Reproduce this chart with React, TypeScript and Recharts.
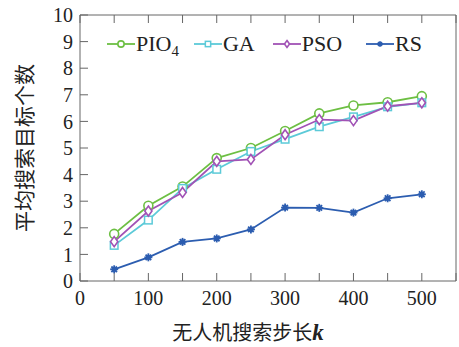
import React from "react";
import {
  LineChart,
  Line,
  XAxis,
  YAxis,
  Legend,
  Label,
} from "recharts";

// 无人机搜索步长 k
const steps = [50, 100, 150, 200, 250, 300, 350, 400, 450, 500];
// 平均搜索目标个数
const pio4 = [1.77, 2.83, 3.55, 4.62, 5.0, 5.64, 6.3, 6.6, 6.72, 6.95];
const ga = [1.34, 2.29, 3.48, 4.2, 4.87, 5.33, 5.8, 6.17, 6.55, 6.7];
const pso = [1.48, 2.63, 3.33, 4.5, 4.57, 5.5, 6.07, 6.03, 6.57, 6.7];
const rs = [0.44, 0.89, 1.47, 1.6, 1.94, 2.76, 2.75, 2.57, 3.11, 3.26];

const xTicks = [0, 50, 100, 150, 200, 250, 300, 350, 400, 450, 500, 550];
const yTicks = [0, 1, 2, 3, 4, 5, 6, 7, 8, 9, 10];

const data = steps.map((s, i) => ({
  step: s,
  pio4: pio4[i],
  ga: ga[i],
  pso: pso[i],
  rs: rs[i],
}));

const COLORS = {
  pio4: "#6dbf43",
  ga: "#5ccad8",
  pso: "#a152b5",
  rs: "#2c5db0",
};

const SERIF = "'Liberation Serif', 'DejaVu Serif', serif";
const CJK = "'Noto Sans CJK SC', sans-serif";
const AXIS = "#666";

type Shape = "circle" | "square" | "diamond" | "star";

function Marker({ cx, cy, shape, color, s = 1 }: { cx: number; cy: number; shape: Shape; color: string; s?: number }) {
  if (shape === "circle")
    return <circle cx={cx} cy={cy} r={4.5 * s} fill="#fff" stroke={color} strokeWidth={1.6} />;
  if (shape === "square")
    return <rect x={cx - 3.8 * s} y={cy - 3.8 * s} width={7.6 * s} height={7.6 * s} fill="#fff" stroke={color} strokeWidth={1.5} />;
  if (shape === "diamond")
    return (
      <path
        d={`M${cx},${cy - 5 * s}L${cx + 3.6 * s},${cy}L${cx},${cy + 5 * s}L${cx - 3.6 * s},${cy}Z`}
        fill="#fff"
        stroke={color}
        strokeWidth={1.6}
      />
    );
  // filled asterisk-like star
  const r = 4 * s;
  return (
    <g stroke={color} strokeWidth={1.8}>
      <circle cx={cx} cy={cy} r={2.6 * s} fill={color} stroke="none" />
      <line x1={cx - r} y1={cy} x2={cx + r} y2={cy} />
      <line x1={cx} y1={cy - r} x2={cx} y2={cy + r} />
      <line x1={cx - r * 0.7} y1={cy - r * 0.7} x2={cx + r * 0.7} y2={cy + r * 0.7} />
      <line x1={cx - r * 0.7} y1={cy + r * 0.7} x2={cx + r * 0.7} y2={cy - r * 0.7} />
    </g>
  );
}

const dotOf = (shape: Shape, color: string) => (p: any) =>
  <Marker key={`${shape}-${p.index}`} cx={p.cx} cy={p.cy} shape={shape} color={color} />;

const legendItems: { key: string; label: React.ReactNode; shape: Shape; color: string; gap: number }[] = [
  { key: "pio4", label: <>PIO<sub style={{ fontSize: 15, verticalAlign: -5, lineHeight: 0 }}>4</sub></>, shape: "circle", color: COLORS.pio4, gap: 0 },
  { key: "ga", label: "GA", shape: "square", color: COLORS.ga, gap: 15 },
  { key: "pso", label: "PSO", shape: "diamond", color: COLORS.pso, gap: 18 },
  { key: "rs", label: "RS", shape: "star", color: COLORS.rs, gap: 24 },
];

function ChartLegend() {
  return (
    <div style={{ display: "flex", alignItems: "center", fontFamily: SERIF, fontSize: 22, color: "#222", whiteSpace: "nowrap", lineHeight: "26px" }}>
      {legendItems.map((it) => (
        <div key={it.key} style={{ display: "flex", alignItems: "center", marginLeft: it.gap }}>
          <svg width={28} height={12} style={{ marginRight: 1 }}>
            <line x1={0} y1={6} x2={28} y2={6} stroke={it.color} strokeWidth={1.8} />
            <Marker cx={14} cy={6} shape={it.shape} color={it.color} s={0.7} />
          </svg>
          <span>{it.label}</span>
        </div>
      ))}
    </div>
  );
}

export default function App() {
  return (
    <div style={{ position: "absolute", left: 0, top: 0, width: 459, height: 347, background: "#fff" }}>
      <LineChart width={459} height={347} data={data} margin={{ top: 14, right: 0, left: 0, bottom: 0 }}>
        <XAxis
          xAxisId="b"
          dataKey="step"
          type="number"
          domain={[0, 550]}
          ticks={xTicks}
          interval={0}
          height={66}
          stroke={AXIS}
          tickSize={-8}
          tickMargin={18}
          tickFormatter={(v: number) => (v % 100 === 0 && v <= 500 ? String(v) : "")}
          tick={{ fill: "#222", fontSize: 20, fontFamily: SERIF }}
        >
          <Label
            content={(p: any) => {
              const vb = p.viewBox || {};
              return (
                <text x={vb.x + vb.width / 2 - 20} y={340} textAnchor="middle" fill="#222" fontSize={20} fontFamily={CJK}>
                  无人机搜索步长
                  <tspan fontFamily={SERIF} fontStyle="italic" fontWeight="bold" fontSize={23}>k</tspan>
                </text>
              );
            }}
          />
        </XAxis>
        <XAxis
          xAxisId="t"
          orientation="top"
          dataKey="step"
          type="number"
          domain={[0, 550]}
          ticks={xTicks}
          interval={0}
          height={1}
          stroke={AXIS}
          tickSize={-8}
          tickFormatter={() => ""}
        />
        <YAxis
          yAxisId="l"
          domain={[0, 10]}
          ticks={yTicks}
          interval={0}
          width={80}
          stroke={AXIS}
          tickSize={-8}
          tickMargin={15}
          tick={{ fill: "#222", fontSize: 20, fontFamily: SERIF }}
        >
          <Label
            content={(p: any) => {
              const vb = p.viewBox || {};
              const cy = vb.y + vb.height / 2;
              return (
                <text x={23} y={cy} transform={`rotate(-90 23 ${cy})`} textAnchor="middle" dominantBaseline="central" fill="#222" fontSize={21} fontFamily={CJK}>
                  平均搜索目标个数
                </text>
              );
            }}
          />
        </YAxis>
        <YAxis
          yAxisId="r"
          orientation="right"
          domain={[0, 10]}
          ticks={yTicks}
          interval={0}
          width={3}
          stroke={AXIS}
          tickSize={-8}
          tickFormatter={() => ""}
        />
        <Legend
          layout="horizontal"
          verticalAlign="middle"
          align="center"
          wrapperStyle={{ top: 31, left: 107, width: "auto" }}
          content={() => <ChartLegend />}
        />
        <Line xAxisId="b" yAxisId="l" dataKey="pio4" stroke={COLORS.pio4} strokeWidth={1.8} dot={dotOf("circle", COLORS.pio4)} isAnimationActive={false} />
        <Line xAxisId="b" yAxisId="l" dataKey="ga" stroke={COLORS.ga} strokeWidth={1.8} dot={dotOf("square", COLORS.ga)} isAnimationActive={false} />
        <Line xAxisId="b" yAxisId="l" dataKey="pso" stroke={COLORS.pso} strokeWidth={1.8} dot={dotOf("diamond", COLORS.pso)} isAnimationActive={false} />
        <Line xAxisId="b" yAxisId="l" dataKey="rs" stroke={COLORS.rs} strokeWidth={1.8} dot={dotOf("star", COLORS.rs)} isAnimationActive={false} />
      </LineChart>
    </div>
  );
}
